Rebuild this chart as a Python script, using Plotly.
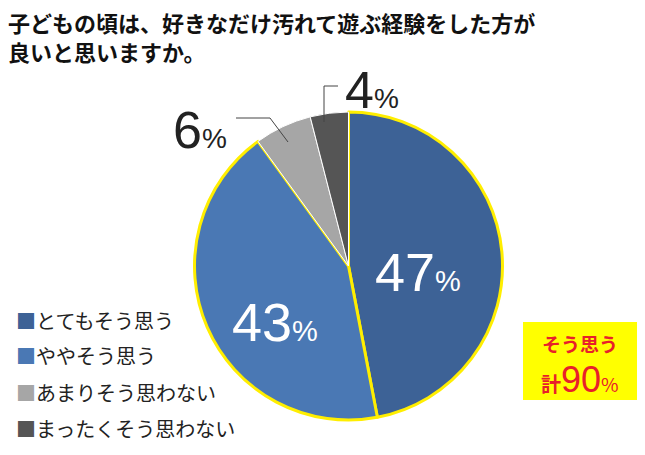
import plotly.graph_objects as go

labels = ['とてもそう思う', 'ややそう思う', 'あまりそう思わない', 'まったくそう思わない']
values = [47, 43, 6, 4]
colors = ['#3d6296', '#4a78b4', '#a6a6a6', '#555555']

W, H = 645, 455
FONT = 'Noto Sans CJK JP'
DX, DY = 8, 8  # page offset of the plot


def px(x):
    return (x - DX) / W


def py(y):
    return 1 - (y - DY) / H


fig = go.Figure(go.Pie(
    labels=labels, values=values, sort=False, direction='clockwise', rotation=0,
    marker=dict(colors=colors, line=dict(color=['#ffee00', '#ffee00', 'white', 'white'], width=[3, 3, 1, 1])),
    textinfo='none', hoverinfo='label+percent', showlegend=False,
    domain=dict(x=[px(194), px(503)], y=[py(420), py(112)]),
))


def note(x, y, text, size, color, family=FONT, **kw):
    fig.add_annotation(x=px(x), y=py(y), xref='paper', yref='paper', showarrow=False,
                       text=text, font=dict(family=family, size=size, color=color), **kw)


def pct(x, y, v, color, size):
    note(x, y, f"{v}<span style='font-size:{int(size*0.55)}px'>%</span>", size, color,
         family='Liberation Sans', xanchor='center', yanchor='middle')


pct(418, 272, values[0], 'white', 54)
pct(275, 322, values[1], 'white', 54)
pct(200, 130, values[2], '#222', 52)
pct(372, 90, values[3], '#222', 52)

# leader lines for small slices
fig.add_shape(type='path', xref='paper', yref='paper', line=dict(color='#444', width=1),
              path=f"M {px(236)},{py(118)} L {px(270)},{py(118)} L {px(288)},{py(142)}")
fig.add_shape(type='path', xref='paper', yref='paper', line=dict(color='#444', width=1),
              path=f"M {px(338)},{py(86)} L {px(324)},{py(86)} L {px(324)},{py(122)}")

note(6, 4, '<b>子どもの頃は、好きなだけ汚れて遊ぶ経験をした方が<br>良いと思いますか。</b>', 22, '#111',
     xanchor='left', yanchor='top', align='left')

for i, (lab, c) in enumerate(zip(labels, colors)):
    y = [320, 355, 392, 428][i]
    note(14, y, f"<span style='color:{c}'>■</span>{lab}", 20, '#222', xanchor='left', yanchor='middle')

fig.add_shape(type='rect', xref='paper', yref='paper', fillcolor='#ffff00', line=dict(width=0),
              x0=px(523), x1=px(638), y0=py(400), y1=py(322))
note(580, 343, '<b>そう思う</b>', 19, '#e8202a', xanchor='center', yanchor='middle')
note(580, 379, "<b>計</b><span style='font-family:Liberation Sans;font-size:36px'>90</span><span style='font-size:19px'>%</span>",
     20, '#e8202a', xanchor='center', yanchor='middle')

fig.update_layout(width=W, height=H, margin=dict(l=0, r=0, t=0, b=0),
                  paper_bgcolor='white', plot_bgcolor='white')
fig.write_html('out.html')
